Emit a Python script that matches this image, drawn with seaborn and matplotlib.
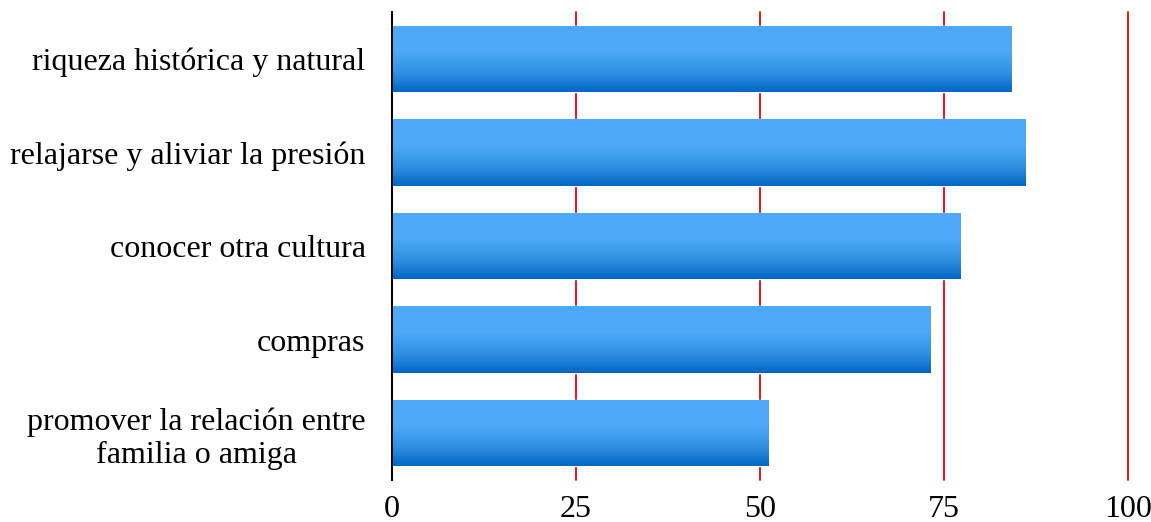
import numpy as np
import pandas as pd
import seaborn as sns
import matplotlib.pyplot as plt
from matplotlib.colors import LinearSegmentedColormap

categories = ["riqueza histórica y natural",
              "relajarse y aliviar la presión",
              "conocer otra cultura",
              "compras",
              "promover la relación entre\nfamilia o amiga"]
values = [84.2, 86.1, 77.2, 73.1, 51.1]
xticks = [0, 25, 50, 75, 100]

sns.set_theme(style="white")
plt.rcParams['font.family'] = ['Liberation Serif', 'DejaVu Serif']

df = pd.DataFrame({"motivo": categories, "pct": values})

fig = plt.figure(figsize=(11.51, 5.22), dpi=100)
ax = fig.add_axes([392/1151, 1 - 480/522, (1128 - 392)/1151, (480 - 12)/522])

sns.barplot(data=df, x="pct", y="motivo", orient="h", color="#2E8EE0",
            width=0.71, ax=ax, zorder=3)

# vertical gradient for each bar: light on top, darker blue at the bottom
grad = LinearSegmentedColormap.from_list(
    "bar", [(0.0, "#4DAAF8"), (0.4, "#4BA9F7"), (0.72, "#2F8FE1"), (1.0, "#0066C4")])
g = np.linspace(0, 1, 256).reshape(-1, 1)
for p in ax.patches:
    x0, y0 = p.get_x(), p.get_y()
    w, h = p.get_width(), p.get_height()
    im = ax.imshow(g, cmap=grad, aspect="auto", interpolation="bicubic",
                   extent=[x0, x0 + w, y0 + h, y0], zorder=4)
    im.set_clip_path(p)

ax.set_xlim(0, 100)
ax.set_ylim(4.5, -0.5)
ax.set_xticks(xticks)
ax.set_xlabel("")
ax.set_ylabel("")
ax.xaxis.grid(True, color="#E8161B", linewidth=1.4, zorder=1)
ax.yaxis.grid(False)
ax.set_axisbelow(True)
for gl in ax.get_xgridlines():
    gl.set_clip_on(False)

for s in ["top", "right", "bottom"]:
    ax.spines[s].set_visible(False)
ax.spines["left"].set_color("black")
ax.spines["left"].set_linewidth(1.4)
ax.spines["left"].set_zorder(5)

ax.tick_params(axis="y", length=0, pad=19, labelsize=23, colors="black")
ax.tick_params(axis="x", length=0, pad=11, labelsize=23, colors="black")
for t in ax.get_yticklabels():
    t.set_multialignment("center")

fig.savefig("out.png", dpi=100)
